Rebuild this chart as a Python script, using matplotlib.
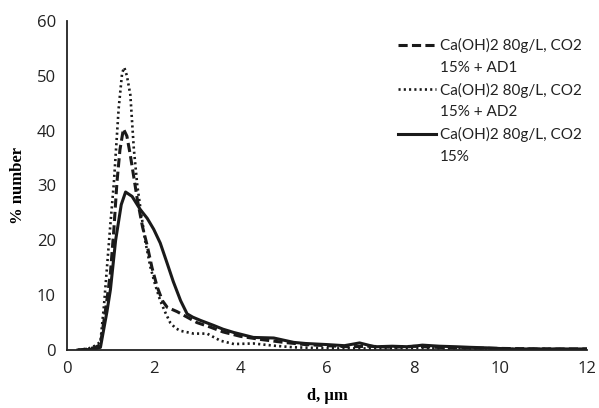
import numpy as np
import matplotlib.pyplot as plt
from matplotlib.lines import Line2D

labels = ['Ca(OH)2 80g/L, CO2\n15% + AD1',
          'Ca(OH)2 80g/L, CO2\n15% + AD2',
          'Ca(OH)2 80g/L, CO2\n15%']

x_ad1 = [0.25, 0.5, 0.65, 0.77, 0.9, 1.0, 1.08, 1.15, 1.22, 1.3, 1.38, 1.46, 1.54, 1.62,
         1.74, 1.85, 1.96, 2.08, 2.2, 2.31, 2.54, 2.77, 3.0, 3.3, 3.6, 4.0, 4.5, 5.0,
         5.5, 6.0, 6.5, 7.0, 7.5, 8.0, 8.5, 9.0, 10, 11, 12]
y_ad1 = [0, 0.2, 0.5, 1, 8, 14, 22, 30.5, 36.5, 40.3, 39, 35.5, 31.5, 27.5,
         22.5, 19, 15, 11.5, 9, 7.8, 7, 6, 5, 4.2, 3.3, 2.5, 1.9, 1.4,
         1.0, 0.8, 0.6, 0.7, 0.5, 0.7, 0.5, 0.4, 0.3, 0.2, 0.2]

x_ad2 = [0.25, 0.5, 0.65, 0.77, 0.85, 0.92, 1.0, 1.08, 1.19, 1.27, 1.32, 1.38, 1.46, 1.54,
         1.62, 1.69, 1.8, 1.92, 2.03, 2.15, 2.27, 2.38, 2.5, 2.62, 2.92, 3.23, 3.54, 3.85,
         4.3, 4.77, 5.23, 5.7, 6.2, 6.8, 7.3, 8, 8.5, 9, 10, 11, 12]
y_ad2 = [0, 0.3, 0.8, 1.5, 8, 15, 23, 30.5, 44, 50.5, 51.5, 50, 46.5, 36.7,
         30, 26, 20, 15.2, 12, 9, 6.8, 5, 4, 3.5, 3, 3, 1.7, 1.1,
         1.2, 0.8, 0.5, 0.4, 0.3, 0.3, 0.3, 0.4, 0.3, 0.3, 0.2, 0.2, 0.1]

x_ref = [0.25, 0.5, 0.65, 0.77, 0.92, 1.0, 1.12, 1.25, 1.35, 1.5, 1.69, 1.85, 2.0, 2.15,
         2.31, 2.45, 2.62, 2.77, 2.9, 3.08, 3.38, 3.6, 3.85, 4.1, 4.3, 4.77, 5.0, 5.23,
         5.5, 6.0, 6.4, 6.75, 7.1, 7.5, 7.9, 8.2, 8.6, 9.0, 9.3, 9.7, 10.2, 10.8, 11.4, 12.0]
y_ref = [0, 0.1, 0.2, 0.5, 7, 11, 20, 26.5, 28.8, 28, 25.6, 24, 22, 19.5,
         15.8, 12.5, 9, 6.6, 6, 5.4, 4.5, 3.8, 3.2, 2.7, 2.3, 2.2, 1.8, 1.4,
         1.2, 1.0, 0.8, 1.3, 0.6, 0.7, 0.6, 0.9, 0.7, 0.6, 0.5, 0.4, 0.2, 0.2, 0.2, 0.2]

x_ticks = [0, 2, 4, 6, 8, 10, 12]
y_ticks = [0, 10, 20, 30, 40, 50, 60]


def main():
    fig = plt.figure(figsize=(5.99, 4.08), dpi=100)
    ax = fig.add_axes([0.112, 0.142, 0.868, 0.807])

    l1, = ax.plot(x_ad1, y_ad1, color='#1a1a1a', lw=2.2, dashes=(3, 1.4))
    l2, = ax.plot(x_ad2, y_ad2, color='#1a1a1a', lw=1.9, linestyle=(0, (0.8, 1.2)))
    l3, = ax.plot(x_ref, y_ref, color='#1a1a1a', lw=2.2)

    ax.set_xlim(0, 12)
    ax.set_ylim(0, 60)
    ax.set_xticks(x_ticks)
    ax.set_yticks(y_ticks)
    ax.tick_params(length=0, labelsize=12, pad=8, colors='#222222')
    for lab in ax.get_xticklabels() + ax.get_yticklabels():
        lab.set_family('Open Sans')
    for s in ['top', 'right']:
        ax.spines[s].set_visible(False)
    for s in ['left', 'bottom']:
        ax.spines[s].set_linewidth(1.3)
        ax.spines[s].set_color('#222222')

    ax.set_xlabel('d, µm', family='Liberation Serif', fontweight='bold', fontsize=12, labelpad=8)
    ax.set_ylabel('% number', family='Liberation Serif', fontweight='bold', fontsize=12, labelpad=8)

    # each label on two legend rows, the handle beside the first row only
    blank = Line2D([], [], linestyle='none')
    handles, texts = [], []
    for h, lab in zip([l1, l2, l3], labels):
        first, second = lab.split('\n')
        handles += [h, blank]
        texts += [first, second]

    leg = fig.legend(handles, texts, loc='upper left', bbox_to_anchor=(0.651, 0.925),
                     frameon=False, prop={'family': 'Lato', 'size': 11}, handlelength=2.5,
                     handletextpad=0.25, labelspacing=0.5, borderpad=0)
    for t in leg.get_texts():
        t.set_color('#222222')

    fig.savefig('out.png', dpi=100)


if __name__ == "__main__":
    main()
